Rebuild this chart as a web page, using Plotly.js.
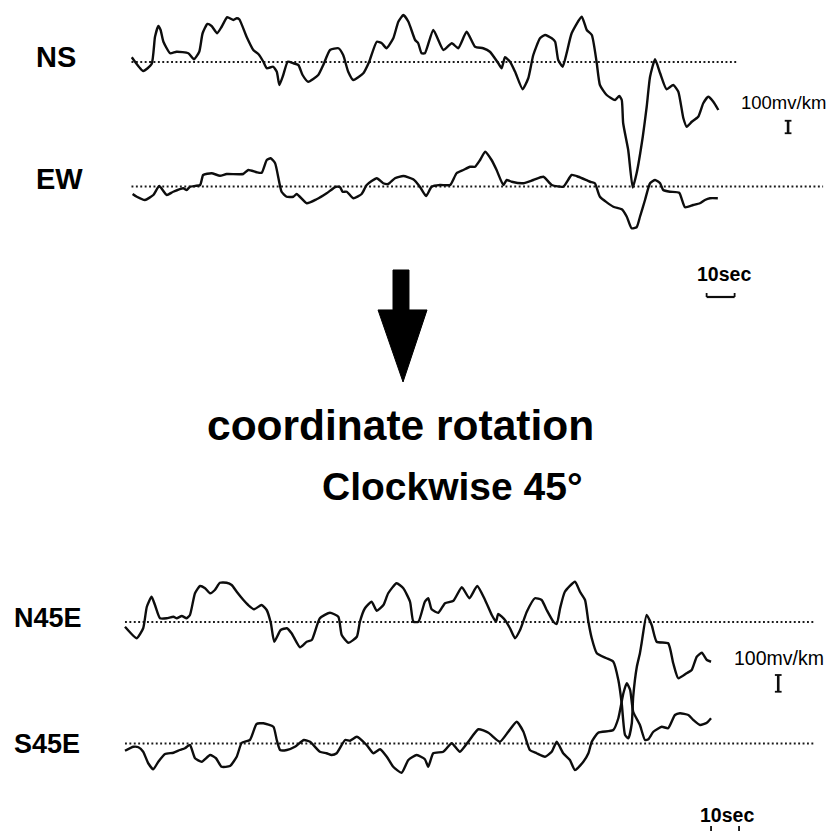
<!DOCTYPE html>
<html>
<head>
<meta charset="utf-8">
<script src="https://cdn.plot.ly/plotly-3.0.1.min.js"></script>
<style>html,body{margin:0;padding:0;background:#fff;}#chart{width:836px;height:831px;}</style>
</head>
<body>
<div id="chart"></div>
<script>
// Time in seconds, amplitude in mv/km relative to each trace's zero line
const nsTime = [0.1,4.2,7.2,8.4,9.6,10.4,11.4,13.8,16.1,20.3,22.3,24.2,25.4,27.1,28.6,30.6,32.2,34.2,36.4,37.6,38.5,41.1,43.5,45.3,47.1,48.3,50.6,51.9,52.8,54.2,55.8,57.8,59.6,61.1,63.1,66.7,68.5,70.9,73.9,75.6,77.4,79.2,82.8,84.9,87.6,89.4,91.1,93.5,95.3,97.1,98.9,101.3,102.4,103.6,104.8,107.8,111.4,114.4,116.7,119.7,122.7,125.6,128.0,131.0,132.2,133.4,135.2,137.0,139.7,141.7,143.5,145.9,147.7,150.1,151.3,152.4,154.0,155.4,157.2,160.8,162.6,164.4,166.1,167.3,169.7,172.7,174.2,175.1,175.6,177.4,179.0,180.4,182.6,184.0,185.2,187.0,188.8,191.1,193.5,195.3,197.1,198.3,200.1,202.4,204.2,206.0,207.8,209.6];
const nsAmp = [38,-72,-16,202,288,256,162,70,82,70,22,82,230,304,288,230,282,358,336,350,342,202,96,64,2,-50,-38,-78,-184,-104,2,-10,-24,-104,-158,-104,-24,96,110,56,-78,-144,-90,2,162,150,110,190,322,376,322,176,150,70,70,256,96,150,110,242,122,110,82,-10,-50,38,2,-78,-218,-130,56,190,216,190,162,16,-38,70,230,362,256,216,2,-184,-264,-304,-272,-304,-490,-704,-1004,-890,-598,-358,-118,22,-90,-218,-184,-238,-450,-518,-478,-438,-330,-278,-318,-384];

const ewTime = [0.4,1.9,4.8,7.8,9.9,12.6,14.9,18.5,19.7,20.9,24.5,25.6,28.6,31.6,34.0,39.9,41.7,44.7,46.5,48.3,49.7,51.3,53.6,55.4,57.8,59.0,62.6,66.1,69.7,73.0,74.5,75.4,76.9,79.2,82.2,84.0,87.6,89.9,91.7,94.1,97.1,100.6,103.0,105.2,107.2,110.2,113.8,116.1,118.5,120.9,122.7,124.5,126.3,128.6,130.4,132.8,134.0,135.8,139.9,143.5,147.1,150.1,154.2,157.2,159.6,163.8,165.5,167.3,172.1,175.1,176.9,178.6,180.4,181.6,183.4,185.2,187.0,188.8,189.9,192.3,195.6,197.7,200.6,203.0,204.8,206.6,209.4];
const ewAmp = [-60,-82,-108,-68,4,-68,-42,-14,-28,-2,12,92,106,86,100,100,132,114,110,212,226,186,-42,-82,-82,-60,-134,-102,-54,-2,-6,-42,-42,-94,-60,12,66,26,20,66,84,58,-2,-76,-2,12,12,106,132,158,158,212,278,212,132,12,52,38,26,52,78,12,-2,92,78,38,26,-82,-162,-182,-242,-334,-326,-242,-108,26,52,26,-28,-42,-50,-166,-148,-134,-108,-94,-94];

const n45Time = [0,4.2,6.5,7.8,9.5,10.7,12.5,14.9,17.3,18.5,20.3,22.0,23.2,25.0,26.8,28.6,30.4,32.1,33.9,36.3,38.1,39.9,42.3,44.0,46.1,48.8,50.6,52.1,53.3,55.6,57.8,59.5,62.5,64.9,66.7,69.6,73.2,76.2,77.4,79.8,82.8,83.9,85.7,88.1,89.9,92.3,94.0,97.0,99.4,101.8,103.0,104.8,107.1,108.3,109.5,111.9,114.3,117.3,120.3,123.0,125.8,128.6,131.0,132.5,133.3,135.7,137.5,139.3,141.1,143.5,146.4,148.8,150.6,153.0,154.2,155.4,157.1,160.7,162.5,164.3,165.5,166.7,168.5,172.0,174.4,176.2,177.4,178.6,179.8,181.0,181.5,182.8,183.9,184.5,186.3,188.1,189.9,194.0,195.8,197.6,200.6,202.4,204.2,206.0,207.8,209.3];
const n45Amp = [-38,-130,-50,122,202,136,30,30,42,30,48,30,56,230,288,270,230,256,314,314,296,242,176,136,102,136,96,-10,-158,-64,-50,-90,-202,-158,-144,30,74,42,-104,-166,-118,2,110,162,90,136,230,310,270,162,2,2,162,190,102,74,150,170,278,190,288,176,56,2,64,16,-50,-130,-64,82,190,176,96,2,-16,110,242,322,242,176,2,-130,-250,-290,-318,-464,-650,-904,-930,-810,-598,-358,-250,-170,56,-24,-158,-170,-330,-450,-410,-384,-278,-246,-304,-318];

const s45Time = [0,3.0,4.8,6.5,8.3,10.1,11.9,14.3,17.3,19.6,21.4,23.2,25.0,27.4,30.4,32.5,34.5,37.5,39.9,41.7,44.6,47.0,49.4,53.0,54.2,55.4,57.8,60.7,63.9,66.1,69.6,72.0,73.8,75.6,78.6,80.4,82.8,86.3,88.7,91.1,93.5,95.8,98.8,101.2,104.2,107.1,108.3,110.1,113.7,116.7,119.6,122.6,126.2,129.8,133.9,136.9,139.9,142.3,144.6,147.0,150.0,152.4,154.2,156.5,158.9,160.7,163.7,165.5,166.7,169.0,174.4,176.2,178.0,179.2,180.4,181.5,183.9,185.7,186.9,188.7,191.7,194.0,196.4,198.2,201.2,203.0,205.4,207.8,209.3];
const s45Amp = [-58,-26,-30,-66,-158,-206,-146,-84,-74,-52,-38,-12,-118,-146,-92,-118,-186,-180,-106,6,28,156,162,134,28,-52,-52,-26,28,14,-66,-78,-92,-78,28,22,54,-12,-78,-46,-106,-186,-234,-132,-92,-126,-186,-78,-66,2,-66,14,114,86,14,94,174,94,-52,-78,-106,-66,14,-78,-132,-212,-146,-78,14,86,108,202,402,482,428,254,148,28,34,94,134,122,228,242,228,188,148,166,202];

const channelLabels = ['NS', 'EW', 'N45E', 'S45E'];
const zeroLineEnd = [216.6, 247.0, 246.4, 246.4];
const ampScale = 100;   // mv/km
const timeScale = 10;   // sec

const FONT = 'Liberation Sans, Arial, Helvetica, sans-serif';
const ink = '#0d0d0d';

function sig(x, y, xa, ya) {
  return {x: x, y: y, xaxis: xa, yaxis: ya, type: 'scatter', mode: 'lines',
          line: {color: ink, width: 2.4, shape: 'spline', smoothing: 0.5}, hoverinfo: 'skip'};
}
function zero(end, xa, ya) {
  return {x: [0, end], y: [0, 0], xaxis: xa, yaxis: ya, type: 'scatter', mode: 'lines',
          line: {color: '#1a1a1a', width: 1.9, dash: '1.9px,2.5px'}, hoverinfo: 'skip'};
}

const traces = [
  zero(zeroLineEnd[0], 'x', 'y'),
  zero(zeroLineEnd[1], 'x', 'y2'),
  zero(zeroLineEnd[2], 'x2', 'y3'),
  zero(zeroLineEnd[3], 'x2', 'y4'),
  sig(nsTime, nsAmp, 'x', 'y'),
  sig(ewTime, ewAmp, 'x', 'y2'),
  sig(n45Time, n45Amp, 'x2', 'y3'),
  sig(s45Time, s45Amp, 'x2', 'y4')
];

function line(xr, yr, x0, y0, x1, y1, w) {
  return {type: 'line', xref: xr, yref: yr, x0: x0, y0: y0, x1: x1, y1: y1,
          line: {color: ink, width: w || 2}};
}
// amplitude scale bars (I) and time scale bars
const ampBarTop = {x: 234.5, y0: -570};
const ampBarBot = {x: 233.3, y0: -558, len: 134};
const timeBarTop = {x0: 205.4, y: -884, tick: 32};
const timeBarBot = {x0: 209.3, y: -716, tick: 56};

const shapes = [
  // arrow
  {type: 'path', xref: 'paper', yref: 'paper', fillcolor: '#000', line: {color: '#000', width: 1},
   path: 'M 0.4701 0.6751 L 0.4892 0.6751 L 0.4892 0.6270 L 0.5108 0.6270 L 0.4821 0.5403 L 0.4522 0.6270 L 0.4701 0.6270 Z'},
  line('x', 'y', ampBarTop.x, ampBarTop.y0, ampBarTop.x, ampBarTop.y0 + ampScale, 2.6),
  line('x', 'y', ampBarTop.x - 1.2, ampBarTop.y0, ampBarTop.x + 1.2, ampBarTop.y0, 1.8),
  line('x', 'y', ampBarTop.x - 1.2, ampBarTop.y0 + ampScale, ampBarTop.x + 1.2, ampBarTop.y0 + ampScale, 1.8),
  line('x2', 'y3', ampBarBot.x, ampBarBot.y0, ampBarBot.x, ampBarBot.y0 + ampBarBot.len, 2.6),
  line('x2', 'y3', ampBarBot.x - 1.2, ampBarBot.y0, ampBarBot.x + 1.2, ampBarBot.y0, 1.8),
  line('x2', 'y3', ampBarBot.x - 1.2, ampBarBot.y0 + ampBarBot.len, ampBarBot.x + 1.2, ampBarBot.y0 + ampBarBot.len, 1.8),
  line('x', 'y2', timeBarTop.x0, timeBarTop.y, timeBarTop.x0 + timeScale, timeBarTop.y, 2.2),
  line('x', 'y2', timeBarTop.x0, timeBarTop.y, timeBarTop.x0, timeBarTop.y + timeBarTop.tick, 1.8),
  line('x', 'y2', timeBarTop.x0 + timeScale, timeBarTop.y, timeBarTop.x0 + timeScale, timeBarTop.y + timeBarTop.tick, 1.8),
  line('x2', 'y4', timeBarBot.x0, timeBarBot.y, timeBarBot.x0 + timeScale, timeBarBot.y, 2.2),
  line('x2', 'y4', timeBarBot.x0, timeBarBot.y, timeBarBot.x0, timeBarBot.y + timeBarBot.tick, 1.8),
  line('x2', 'y4', timeBarBot.x0 + timeScale, timeBarBot.y, timeBarBot.x0 + timeScale, timeBarBot.y + timeBarBot.tick, 1.8)
];

function ann(text, x, y, size, weight, xanchor) {
  return {text: text, x: x, y: y, xref: 'paper', yref: 'paper', showarrow: false,
          xanchor: xanchor || 'center', yanchor: 'middle', borderpad: 0,
          font: {family: FONT, size: size, color: '#000', weight: weight}};
}
const annotations = [
  ann(channelLabels[0], 0.0419, 0.9320, 29, 'bold', 'left'),
  ann(channelLabels[1], 0.0419, 0.7846, 29, 'bold', 'left'),
  ann(channelLabels[2], 0.0155, 0.2569, 27, 'bold', 'left'),
  ann(channelLabels[3], 0.0155, 0.1047, 27, 'bold', 'left'),
  ann('100mv/km', 0.9375, 0.8762, 18.5, 'normal'),
  ann('10sec', 0.8660, 0.6703, 19.5, 'bold'),
  ann('100mv/km', 0.9324, 0.2076, 19.5, 'normal'),
  ann('10sec', 0.8696, 0.0193, 19.5, 'bold'),
  ann('coordinate rotation', 0.4785, 0.4881, 42.5, 'bold'),
  ann('Clockwise 45°', 0.5413, 0.4143, 39, 'bold')
];

const hidden = {visible: false, fixedrange: true, showgrid: false, zeroline: false};
const layout = {
  width: 836, height: 831,
  margin: {l: 0, r: 0, t: 0, b: 0, pad: 0},
  paper_bgcolor: '#fff', plot_bgcolor: 'rgba(0,0,0,0)',
  showlegend: false,
  xaxis: Object.assign({range: [-46.96, 251.61], domain: [0, 1]}, hidden),
  xaxis2: Object.assign({range: [-44.64, 253.93], overlaying: 'x'}, hidden),
  yaxis: Object.assign({range: [-6152, 496], domain: [0, 1]}, hidden),
  yaxis2: Object.assign({range: [-5156, 1492], overlaying: 'y'}, hidden),
  yaxis3: Object.assign({range: [-1672, 4976], overlaying: 'y', anchor: 'x2'}, hidden),
  yaxis4: Object.assign({range: [-700, 5948], overlaying: 'y', anchor: 'x2'}, hidden),
  shapes: shapes,
  annotations: annotations
};

Plotly.newPlot('chart', traces, layout, {staticPlot: true, displayModeBar: false});
</script>
</body>
</html>
